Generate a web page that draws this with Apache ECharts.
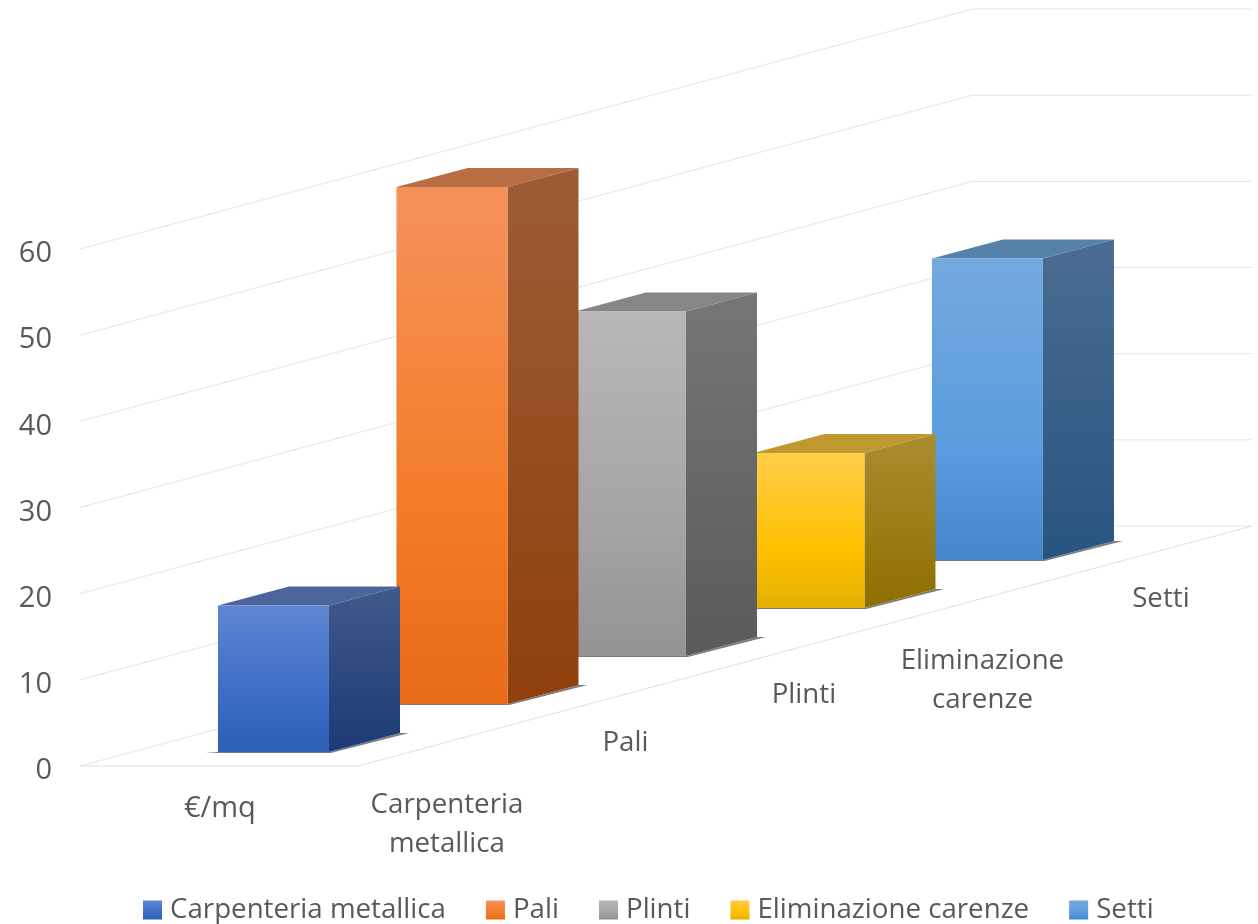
<!DOCTYPE html>
<html>
<head>
<meta charset="utf-8">
<style>html,body{margin:0;padding:0;background:#fff}#c{width:1258px;height:924px}</style>
<script src="https://cdn.jsdelivr.net/npm/echarts@6/dist/echarts.min.js"></script>
</head>
<body>
<div id="c"></div>
<script>
const seriesNames = ["Carpenteria metallica", "Pali", "Plinti", "Eliminazione carenze", "Setti"];
const seriesValues = [17, 60, 40, 18, 35];
const depthLabels = ["Carpenteria\nmetallica", "Pali", "Plinti", "Eliminazione\ncarenze", "Setti"];
const frontLabel = "€/mq";
const yTicks = [0, 10, 20, 30, 40, 50, 60];

const frontColors = [
  ["#5f86d1", "#3b6cc6", "#2d5fb6"],
  ["#f5925c", "#f47b27", "#e76b18"],
  ["#b8b8b8", "#a4a4a4", "#939393"],
  ["#ffcd4a", "#ffc000", "#e3b000"],
  ["#74a9df", "#5a9cde", "#4487c9"]
];
const sideColors = [
  ["#42598a", "#1c3a76"],
  ["#9d5c36", "#8f400c"],
  ["#767676", "#5a5a5a"],
  ["#ab8c30", "#8f6f00"],
  ["#4b6c92", "#285480"]
];
const topColors = ["#4c659b", "#b96d43", "#868686", "#bf9830", "#5681a9"];

// Oblique projection, in axis units: each lane moves one x unit right and LANE_RISE y units up.
const LANE_RISE = 5.57;
const LANES = seriesNames.length;
const FLOOR_W = 1.567;
const BAR_X = 0.773, BAR_W = 0.622, BAR_DX = 0.398, BAR_DY = 2.2, BASE = 1.62;
const FONT = '27.7px "Open Sans", sans-serif';
const TEXT = '#595959';

function vgrad(stops) {
  return { type: 'linear', x: 0, y: 0, x2: 0, y2: 1,
    colorStops: stops.map((c, i) => ({ offset: stops.length === 3 ? [0, 0.62, 1][i] : i, color: c })) };
}
function proj(api, lane, x, y) { return api.coord([lane + x, lane * LANE_RISE + y]); }

function barRender(params, api) {
  const i = api.value(0), v = api.value(1);
  const P = (x, y) => proj(api, i, x, y + BASE);
  const x0 = BAR_X, x1 = BAR_X + BAR_W, x2 = x1 + BAR_DX;
  const dx0 = x0 + BAR_DX;
  const poly = (pts, fill, z2) => ({ type: 'polygon', z2: z2, shape: { points: pts }, style: { fill: fill }, silent: true });
  return { type: 'group', children: [
    poly([P(x0 - 0.07, 0), P(x1, 0), P(x2, BAR_DY), P(x2 + 0.05, BAR_DY), P(x1 + 0.01, -0.12), P(x0, -0.12)], '#7d7d7d', 1),
    poly([P(x0, v), P(dx0, v + BAR_DY), P(x2, v + BAR_DY), P(x1, v)], topColors[i], 2),
    poly([P(x1, 0), P(x2, BAR_DY), P(x2, v + BAR_DY), P(x1, v)], vgrad(sideColors[i]), 2),
    poly([P(x0, 0), P(x1, 0), P(x1, v), P(x0, v)], vgrad(frontColors[i]), 3)
  ] };
}

function wallRender(params, api) {
  const v = api.value(0);
  const a = api.coord([0, v]), b = proj(api, LANES, 0, v), c = proj(api, LANES, FLOOR_W, v);
  return { type: 'polyline', shape: { points: [a, b, c] }, style: { fill: null, stroke: '#e4e4e4', lineWidth: 1 }, silent: true };
}
function floorRender(params, api) {
  const a = api.coord([0, 0]), b = api.coord([FLOOR_W - 0.01, 0]), c = proj(api, LANES, FLOOR_W, 0);
  return { type: 'polyline', shape: { points: [a, b, c] }, style: { fill: null, stroke: '#e0e0e0', lineWidth: 1 }, silent: true };
}
function labelRender(params, api) {
  const i = params.dataIndex;
  const t = depthLabels[i];
  const p = proj(api, i, BAR_X + BAR_W * 0.5 + 1.0, 0);
  const extra = t.indexOf('\n') >= 0 ? 59 : 25;
  return { type: 'text', silent: true, style: { x: p[0] - 5, y: p[1] + extra, text: t, font: FONT, fill: TEXT, align: 'center', verticalAlign: 'middle', lineHeight: 39 } };
}
function frontLabelRender(params, api) {
  const p = api.coord([FLOOR_W / 2, 0]);
  return { type: 'text', silent: true, style: { x: p[0], y: p[1] + 43, text: frontLabel, font: '29px "Open Sans", sans-serif', fill: TEXT, align: 'center', verticalAlign: 'middle' } };
}

const chart = echarts.init(document.getElementById('c'), null, { renderer: 'canvas' });
chart.setOption({
  animation: false,
  backgroundColor: '#fff',
  tooltip: { show: false },
  grid: { left: 80, right: 0, top: 249, height: 517 },
  xAxis: { type: 'value', min: 0, max: 6.6, show: false },
  yAxis: {
    type: 'value', min: 0, max: 60, interval: 10,
    axisLine: { show: false }, axisTick: { show: false }, splitLine: { show: false },
    axisLabel: { color: TEXT, fontSize: 29, fontFamily: '"Open Sans", sans-serif', margin: 28, verticalAlign: 'top', lineHeight: 10 }
  },
  legend: {
    left: 143, top: 896, padding: 0, icon: 'rect', itemWidth: 19, itemHeight: 19, itemGap: 40,
    selectedMode: false, data: seriesNames,
    textStyle: { color: TEXT, fontSize: 27.7, fontFamily: '"Open Sans", sans-serif', padding: [0, 0, 0, 3] }
  },
  series: [
    { type: 'custom', name: 'wall', z: 1, data: yTicks.map(v => [v]), renderItem: wallRender },
    { type: 'custom', name: 'floor', z: 1, data: [[0]], renderItem: floorRender },
    { type: 'custom', name: 'depthLabels', z: 1, data: depthLabels.map((_, i) => [i]), renderItem: labelRender },
    { type: 'custom', name: 'frontLabel', z: 1, data: [[0]], renderItem: frontLabelRender }
  ].concat(seriesNames.map((name, i) => ({
    type: 'custom', name: name, z: 10 - i,
    itemStyle: { color: vgrad(frontColors[i]) },
    data: [[i, seriesValues[i]]],
    renderItem: barRender
  })))
});
</script>
</body>
</html>
